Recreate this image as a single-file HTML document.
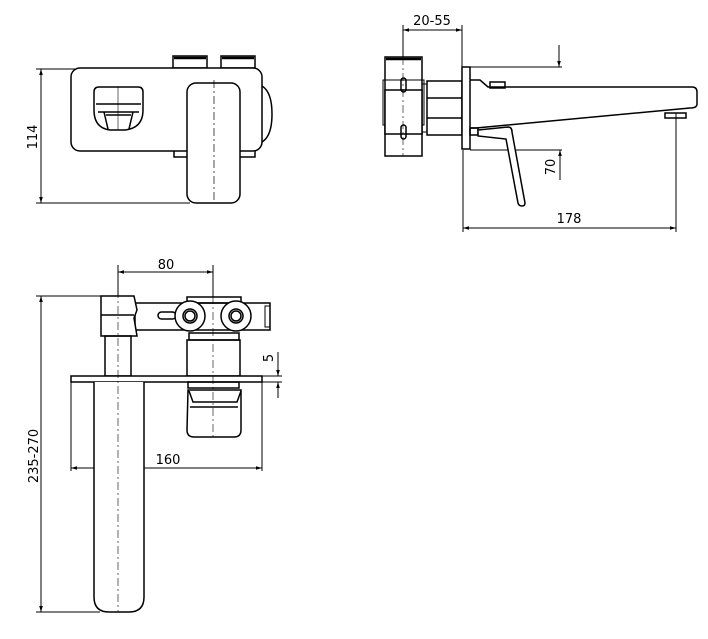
<!DOCTYPE html>
<html><head><meta charset="utf-8"><style>html,body{margin:0;padding:0;background:#fff}svg{display:block}</style></head>
<body>
<svg width="708" height="639" viewBox="0 0 708 639" xmlns="http://www.w3.org/2000/svg" font-family="DejaVu Sans, Liberation Sans, sans-serif" font-size="12">
<defs>
<marker id="a" viewBox="0 0 10 10" refX="10" refY="5" markerWidth="8" markerHeight="6" orient="auto-start-reverse"><path d="M0,2 L10,5 L0,8z" fill="#000"/></marker>
</defs>
<g fill="none" stroke="#000" stroke-width="1.5">
<!-- TOP LEFT VIEW -->
<line x1="36" y1="69" x2="75" y2="69" stroke-width="1"/>
<line x1="36" y1="203" x2="190" y2="203" stroke-width="1"/>
<line x1="41" y1="69" x2="41" y2="203" stroke-width="1" marker-start="url(#a)" marker-end="url(#a)"/>
<rect x="173" y="56" width="34" height="12" fill="#fff"/><line x1="174" y1="58" x2="206" y2="58" stroke-width="2.5"/>
<rect x="221" y="56" width="34" height="12" fill="#fff"/><line x1="222" y1="58" x2="254" y2="58" stroke-width="2.5"/>
<rect x="174" y="150" width="14" height="7"/><rect x="239" y="150" width="16" height="7"/>
<path d="M262,86 Q272,92 272,114 Q272,136 262,142"/>
<rect x="71" y="68" width="191" height="83" rx="9" fill="#fff"/>
<path d="M94,92 Q94,87 99,87 L138,87 Q143,87 143,92 L143,110 Q143,128 125,130 L110,130 Q94,128 94,110 Z"/>
<path d="M96,104 L141,104 M98,112 L139,112 M104,112 L108,129 M133,112 L129,129 M106,115 L131,115"/>
<line x1="118" y1="87" x2="118" y2="130" stroke-width="0.6"/>
<rect x="187" y="83" width="53" height="120" rx="9" fill="#fff"/>
<line x1="214" y1="80" x2="214" y2="203" stroke-width="0.7" stroke-dasharray="8,3,2,3"/>
<!-- TOP RIGHT VIEW -->
<line x1="403" y1="25" x2="403" y2="57" stroke-width="1"/>
<line x1="462" y1="25" x2="462" y2="67" stroke-width="1"/>
<line x1="403" y1="30" x2="462" y2="30" stroke-width="1" marker-start="url(#a)" marker-end="url(#a)"/>
<rect x="385" y="57" width="37" height="99"/>
<line x1="386" y1="59" x2="421" y2="59" stroke-width="2.5"/>
<rect x="383" y="80" width="41" height="45" stroke-width="1"/>
<rect x="385" y="90" width="37" height="44" fill="#fff"/>
<rect x="401" y="78" width="5" height="14" rx="2.5"/><rect x="401" y="125" width="5" height="14" rx="2.5"/>
<line x1="403" y1="57" x2="403" y2="156" stroke-width="0.6" stroke-dasharray="8,3,2,3"/>
<rect x="427" y="81" width="35" height="54"/>
<line x1="427" y1="98" x2="462" y2="98"/><line x1="427" y1="118" x2="462" y2="118"/>
<rect x="422" y="84" width="5" height="48" stroke-width="1"/>
<rect x="462" y="67" width="8" height="82" fill="#fff"/>
<line x1="470" y1="67" x2="562" y2="67" stroke-width="1"/>
<line x1="559" y1="45" x2="559" y2="67" stroke-width="1" marker-end="url(#a)"/>
<line x1="470" y1="150" x2="562" y2="150" stroke-width="1"/>
<line x1="560" y1="180" x2="560" y2="150" stroke-width="1" marker-end="url(#a)"/>
<rect x="490" y="82" width="15" height="6"/>
<path d="M470,80 L480,80 L488,87 L692,87 Q697,87 697,92 L697,104 Q697,108 690,108 L476,128 L470,128"/>
<rect x="665" y="113" width="21" height="5"/>
<rect x="470" y="128" width="8" height="7"/>
<path d="M478,130 L508,127 Q512,127 512,132 L525,203 Q525,206 522,206 Q519,206 518,203 L506,139 L478,136 Z" fill="#fff"/>
<line x1="463" y1="150" x2="463" y2="232" stroke-width="1"/>
<line x1="676" y1="113" x2="676" y2="232" stroke-width="1"/>
<line x1="463" y1="228" x2="676" y2="228" stroke-width="1" marker-start="url(#a)" marker-end="url(#a)"/>
<!-- BOTTOM LEFT VIEW -->
<line x1="118" y1="265" x2="118" y2="296" stroke-width="1"/>
<line x1="213" y1="265" x2="213" y2="297" stroke-width="1"/>
<line x1="118" y1="272" x2="213" y2="272" stroke-width="1" marker-start="url(#a)" marker-end="url(#a)"/>
<line x1="36" y1="296" x2="118" y2="296" stroke-width="1"/>
<line x1="36" y1="612" x2="100" y2="612" stroke-width="1"/>
<line x1="41" y1="296" x2="41" y2="612" stroke-width="1" marker-start="url(#a)" marker-end="url(#a)"/>
<rect x="135" y="303" width="135" height="27"/>
<rect x="265" y="306" width="5" height="21" stroke-width="1"/>
<rect x="158" y="312" width="18" height="7" rx="3.5"/>
<rect x="187" y="297" width="54" height="6"/>
<circle cx="190" cy="316" r="15" fill="#fff"/><circle cx="190" cy="316" r="7"/><circle cx="190" cy="316" r="5"/>
<circle cx="236" cy="316" r="15" fill="#fff"/><circle cx="236" cy="316" r="7"/><circle cx="236" cy="316" r="5"/>
<path d="M101,296 L134,296 L137,310 L134,318 L137,336 L101,336 Z" fill="#fff"/>
<line x1="101" y1="315" x2="134" y2="315"/>
<rect x="105" y="336" width="26" height="40"/>
<rect x="189" y="333" width="50" height="7"/>
<rect x="187" y="340" width="53" height="36"/>
<rect x="71" y="376" width="191" height="6" fill="#fff"/>
<line x1="262" y1="376" x2="282" y2="376" stroke-width="1"/>
<line x1="262" y1="382" x2="282" y2="382" stroke-width="1"/>
<line x1="278" y1="352" x2="278" y2="376" stroke-width="1" marker-end="url(#a)"/>
<line x1="278" y1="398" x2="278" y2="382" stroke-width="1" marker-end="url(#a)"/>
<rect x="188" y="382" width="51" height="6"/>
<path d="M188,390 L241,390 L241,430 Q241,437 234,437 L194,437 Q187,437 187,430 Z"/>
<path d="M189,391 L193,402 L237,402 L241,391 M190,407 L238,407"/>
<path d="M94,382 L94,597 Q94,612 109,612 L129,612 Q144,612 144,597 L144,382" fill="#fff"/>
<line x1="118" y1="290" x2="118" y2="612" stroke-width="0.6" stroke-dasharray="8,3,2,3"/>
<line x1="213" y1="296" x2="213" y2="437" stroke-width="0.6" stroke-dasharray="8,3,2,3"/>
<line x1="71" y1="382" x2="71" y2="471" stroke-width="1"/>
<line x1="262" y1="382" x2="262" y2="471" stroke-width="1"/>
<line x1="71" y1="468" x2="94" y2="468" stroke-width="1" marker-start="url(#a)"/>
<line x1="144" y1="468" x2="262" y2="468" stroke-width="1" marker-end="url(#a)"/>
</g>
<g fill="#000" font-size="13">
<text x="0" y="0" transform="translate(37,137) rotate(-90)" text-anchor="middle">114</text>
<text x="432" y="25" text-anchor="middle">20-55</text>
<text x="0" y="0" transform="translate(555,167) rotate(-90)" text-anchor="middle">70</text>
<text x="569" y="223" text-anchor="middle">178</text>
<text x="166" y="269" text-anchor="middle">80</text>
<text x="0" y="0" transform="translate(38,456) rotate(-90)" text-anchor="middle">235-270</text>
<text x="168" y="464" text-anchor="middle">160</text>
<text x="0" y="0" transform="translate(273,358) rotate(-90)" text-anchor="middle">5</text>
</g>
</svg>
</body></html>
